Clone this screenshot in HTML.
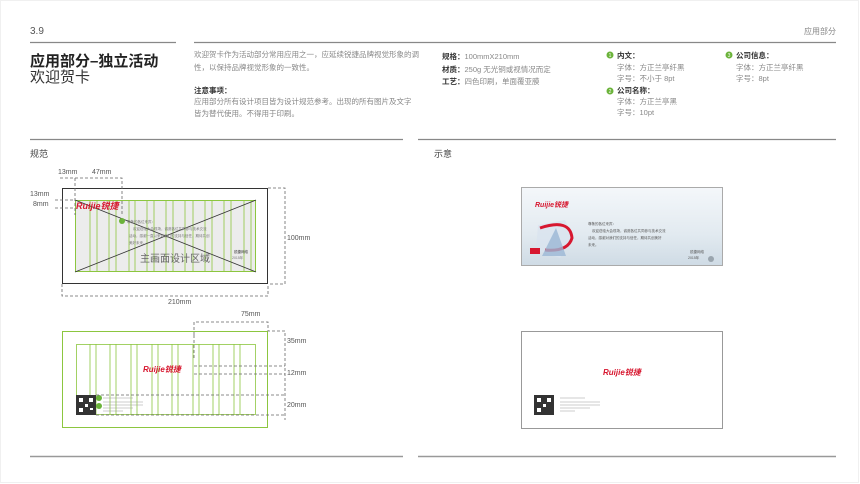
<!DOCTYPE html>
<html><head><meta charset="utf-8"><style>
body{margin:0;width:860px;height:484px;background:#fff;overflow:hidden;font-family:"Liberation Sans","Noto Sans CJK SC",sans-serif}
svg{position:absolute;left:0;top:0}
text{font-family:"Liberation Sans","Noto Sans CJK SC",sans-serif}
</style></head><body>
<svg width="860" height="484" viewBox="0 0 860 484">
<rect x="0" y="0" width="860" height="484" fill="#fff"/>
<rect x="0.5" y="0.5" width="858" height="482" fill="none" stroke="#f0f0f0"/>
<!-- header -->
<text x="30" y="34" font-size="10" fill="#555">3.9</text>
<text x="836" y="34" font-size="8" fill="#888" text-anchor="end">应用部分</text>
<line x1="30" y1="42.5" x2="176" y2="42.5" stroke="#888" stroke-width="1.2"/>
<line x1="194" y1="42.5" x2="836" y2="42.5" stroke="#888" stroke-width="1.2"/>
<text x="30" y="66" font-size="15" font-weight="bold" fill="#222">应用部分–独立活动</text>
<text x="30" y="82" font-size="15" fill="#333">欢迎贺卡</text>
<g font-size="7.5" fill="#888">
<text x="194" y="57">欢迎贺卡作为活动部分常用应用之一，应延续锐捷品牌视觉形象的调</text>
<text x="194" y="70">性，以保持品牌视觉形象的一致性。</text>
<text x="194" y="93" fill="#333" font-weight="bold">注意事项：</text>
<text x="194" y="104">应用部分所有设计项目皆为设计规范参考。出现的所有图片及文字</text>
<text x="194" y="116">皆为替代使用。不得用于印刷。</text>
<text x="442" y="59"><tspan fill="#333" font-weight="bold">规格：</tspan>100mmX210mm</text>
<text x="442" y="72"><tspan fill="#333" font-weight="bold">材质：</tspan>250g 无光铜或视情况而定</text>
<text x="442" y="84"><tspan fill="#333" font-weight="bold">工艺：</tspan>四色印刷，单面覆亚膜</text>
<text x="617" y="58" fill="#333" font-weight="bold">内文：</text>
<text x="617" y="70">字体：方正兰亭纤黑</text>
<text x="617" y="81">字号：不小于 8pt</text>
<text x="617" y="93" fill="#333" font-weight="bold">公司名称：</text>
<text x="617" y="104">字体：方正兰亭黑</text>
<text x="617" y="115">字号：10pt</text>
<text x="736" y="58" fill="#333" font-weight="bold">公司信息：</text>
<text x="736" y="70">字体：方正兰亭纤黑</text>
<text x="736" y="81">字号：8pt</text>
</g>
<g fill="#6bb33a"><circle cx="610" cy="55" r="3.5"/><circle cx="610" cy="91" r="3.5"/><circle cx="729" cy="55" r="3.5"/></g>
<g fill="#fff" font-size="5" text-anchor="middle"><text x="610" y="57">1</text><text x="610" y="93">2</text><text x="729" y="57">3</text></g>
<line x1="30" y1="139.5" x2="403" y2="139.5" stroke="#888" stroke-width="1.2"/>
<line x1="418" y1="139.5" x2="836" y2="139.5" stroke="#888" stroke-width="1.2"/>
<text x="30" y="157" font-size="9" fill="#444">规范</text>
<text x="434" y="157" font-size="9" fill="#444">示意</text>
<line x1="30" y1="456.5" x2="403" y2="456.5" stroke="#999" stroke-width="1.5"/>
<line x1="418" y1="456.5" x2="836" y2="456.5" stroke="#999" stroke-width="1.5"/>

<!-- diagram 1 -->
<rect x="62.5" y="188.5" width="205" height="95" fill="#fff" stroke="#333" stroke-width="1"/>
<rect x="75.5" y="200.5" width="180" height="71" fill="#ececec" stroke="#8cc63f" stroke-width="1"/>
<g stroke="#8cc63f" stroke-width="0.8">
<path d="M90 200v72M97 200v72M109 200v72M116 200v72M129 200v72M135 200v72M147 200v72M154 200v72M166 200v72M173 200v72M185 200v72M193 200v72M205 200v72M212 200v72M224 200v72M231 200v72M244 200v72M251 200v72"/>
</g>
<line x1="75" y1="200" x2="256" y2="272" stroke="#333" stroke-width="0.8"/>
<line x1="75" y1="272" x2="256" y2="200" stroke="#333" stroke-width="0.8"/>
<text x="76" y="209" font-size="9" font-style="italic" font-weight="bold" fill="#d7172f">Ruijie锐捷</text>
<circle cx="122" cy="221" r="3" fill="#6bb33a"/>
<g font-size="3.5" fill="#777"><text x="127" y="223">尊敬的各位来宾：</text><text x="133" y="230">欢迎莅临大会现场，诚邀各位共同参与技术交流</text><text x="129" y="237">活动，感谢一直以来对我们的支持与信任，期待共创</text><text x="129" y="244">美好未来。</text><text x="234" y="253" fill="#333">锐捷网络</text><text x="232" y="259">2015年</text></g>
<text x="140" y="262" font-size="10" fill="#666">主画面设计区域</text>
<g stroke="#666" stroke-width="0.8" stroke-dasharray="3,2" fill="none">
<path d="M268 188H285V284H268M62 284V296H268V284"/>
<path d="M60 178H122V215M75 178V215M55 200H75M55 208H75"/>
</g>
<g font-size="7" fill="#555">
<text x="58" y="174">13mm</text><text x="92" y="174">47mm</text>
<text x="30" y="196">13mm</text><text x="33" y="206">8mm</text>
<text x="287" y="240">100mm</text><text x="168" y="304">210mm</text>
</g>

<!-- diagram 2 -->
<rect x="62.5" y="331.5" width="205" height="96" fill="#fff" stroke="#8cc63f" stroke-width="1"/>
<rect x="76.5" y="344.5" width="179" height="70" fill="none" stroke="#8cc63f" stroke-width="0.8"/>
<g stroke="#8cc63f" stroke-width="0.8">
<path d="M90 344v71M96 344v71M110 344v71M116 344v71M131 344v71M137 344v71M152 344v71M158 344v71M172 344v71M178 344v71M193 344v71M199 344v71M213 344v71M219 344v71M234 344v71M240 344v71"/>
</g>
<text x="143" y="372" font-size="8" font-style="italic" font-weight="bold" fill="#d7172f">Ruijie锐捷</text>
<rect x="76" y="395" width="20" height="20" fill="#333"/>
<g fill="#fff"><rect x="79" y="398" width="4" height="4"/><rect x="89" y="398" width="4" height="4"/><rect x="79" y="408" width="4" height="4"/><rect x="85" y="404" width="3" height="3"/><rect x="90" y="408" width="3" height="2"/></g>
<circle cx="99" cy="398" r="3" fill="#6bb33a"/><circle cx="99" cy="406" r="3" fill="#6bb33a"/>
<g stroke="#999" stroke-width="0.6"><path d="M103 398h30M103 402h40M103 405h40M103 408h30M103 411h20"/></g>
<g stroke="#666" stroke-width="0.8" stroke-dasharray="3,2" fill="none">
<path d="M194 335V322H268V331H285V420M194 335V360M194 366H285M194 374H285M96 395H285M96 415H285"/>
</g>
<g font-size="7" fill="#555">
<text x="241" y="316">75mm</text><text x="287" y="343">35mm</text>
<text x="287" y="375">12mm</text><text x="287" y="407">20mm</text>
</g>

<!-- right cards -->
<defs><linearGradient id="g1" x1="0" y1="0" x2="0" y2="1"><stop offset="0" stop-color="#f4f7fa"/><stop offset="0.6" stop-color="#e2eaf0"/><stop offset="1" stop-color="#cfdbe5"/></linearGradient></defs>
<rect x="521.5" y="187.5" width="201" height="78" fill="url(#g1)" stroke="#aaa"/>
<text x="535" y="207" font-size="7" font-style="italic" font-weight="bold" fill="#d7172f">Ruijie锐捷</text>
<path d="M538 225 L565 220 L572 235 L560 258 L536 250 Z" fill="#d9e4ef" opacity="0.8"/>
<path d="M540 228 Q570 218 572 238 Q568 252 545 250" fill="none" stroke="#d7172f" stroke-width="3"/>
<path d="M542 256 L556 228 L566 256 Z" fill="#9bb6d4" opacity="0.8"/>
<rect x="530" y="248" width="10" height="6" fill="#d7172f"/>
<g font-size="3.5" fill="#555"><text x="588" y="225">尊敬的各位来宾：</text><text x="592" y="232">欢迎莅临大会现场，诚邀各位共同参与技术交流</text><text x="588" y="239">活动，感谢对我们的支持与信任，期待共创美好</text><text x="588" y="246">未来。</text><text x="690" y="253">锐捷网络</text><text x="688" y="259">2015年</text></g>
<circle cx="711" cy="259" r="3" fill="#9aa5ae"/>
<rect x="521.5" y="331.5" width="201" height="97" fill="#fff" stroke="#999"/>
<text x="603" y="375" font-size="8" font-style="italic" font-weight="bold" fill="#d7172f">Ruijie锐捷</text>
<rect x="534" y="395" width="20" height="20" fill="#333"/>
<g fill="#fff"><rect x="537" y="398" width="4" height="4"/><rect x="547" y="398" width="4" height="4"/><rect x="537" y="408" width="4" height="4"/><rect x="543" y="404" width="3" height="3"/></g>
<g stroke="#999" stroke-width="0.6"><path d="M560 398h25M560 402h40M560 405h40M560 408h30M560 411h15"/></g>
</svg>
</body></html>
